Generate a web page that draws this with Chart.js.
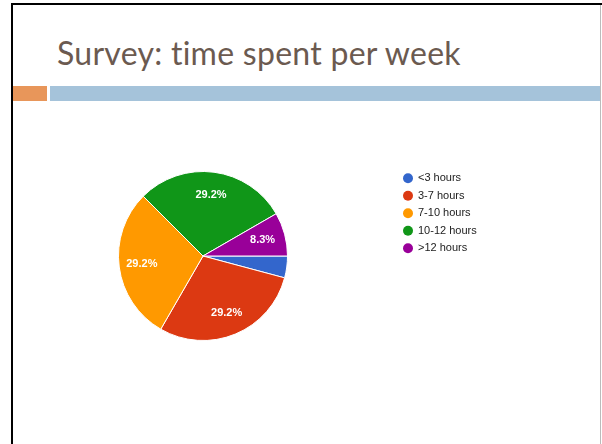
<!DOCTYPE html>
<html>
<head>
<meta charset="utf-8">
<script src="https://cdn.jsdelivr.net/npm/chart.js@4"></script>
<style>
  html, body { margin: 0; padding: 0; background: #fff; }
  #slide { position: relative; width: 602px; height: 444px; overflow: hidden; background: #fff; }
  .line { position: absolute; }
  #title { position: absolute; left: 57px; top: 33px; font-family: Lato, "Open Sans", sans-serif;
           font-size: 32px; letter-spacing: 0.27px; color: #6b5a50; white-space: nowrap; }
  canvas { position: absolute; left: 0; top: 0; }
</style>
</head>
<body>
<div id="slide">
  <div class="line" style="left:11px;top:3px;width:591px;height:2px;background:#000"></div>
  <div class="line" style="left:11px;top:3px;width:2px;height:441px;background:#000"></div>
  <div class="line" style="left:600px;top:5px;width:1px;height:439px;background:#bbb"></div>
  <div class="line" style="left:13px;top:86px;width:34px;height:15px;background:#e8965a"></div>
  <div class="line" style="left:50px;top:86px;width:550px;height:15px;background:#a5c3da"></div>
  <div id="title">Survey: time spent per week</div>
  <canvas id="myChart" width="602" height="444"></canvas>
</div>
<script>
// categorias y respuestas (de 24 alumnos)
const categorias = ['<3 hours', '3-7 hours', '7-10 hours', '10-12 hours', '>12 hours'];
const respuestas = [1, 7, 7, 7, 2];
const colores = ['#3366cc', '#dc3912', '#ff9900', '#109618', '#990099'];

// porcentajes dentro de cada rebanada
const etiquetas = {
  id: 'etiquetas',
  afterDatasetsDraw(chart) {
    const ctx = chart.ctx;
    const datos = chart.data.datasets[0].data;
    const total = datos.reduce((s, v) => s + v, 0);
    ctx.save();
    ctx.font = 'bold 11px Arial, "Liberation Sans", sans-serif';
    ctx.fillStyle = '#fff';
    ctx.textAlign = 'center';
    ctx.textBaseline = 'middle';
    chart.getDatasetMeta(0).data.forEach((arc, i) => {
      const pct = datos[i] / total * 100;
      if (pct < 5) return;
      const ang = (arc.startAngle + arc.endAngle) / 2;
      const r = arc.outerRadius * 0.73;
      ctx.fillText(pct.toFixed(1) + '%', arc.x + Math.cos(ang) * r, arc.y + Math.sin(ang) * r);
    });
    ctx.restore();
  }
};

// leyenda a la derecha
const leyenda = {
  id: 'leyenda',
  afterDraw(chart) {
    const ctx = chart.ctx;
    const bg = chart.data.datasets[0].backgroundColor;
    ctx.save();
    ctx.font = '11px Arial, "Liberation Sans", sans-serif';
    ctx.textBaseline = 'middle';
    chart.data.labels.forEach((lab, i) => {
      const y = 178.3 + i * 17.5;
      ctx.fillStyle = bg[i];
      ctx.beginPath();
      ctx.arc(408, y, 5, 0, Math.PI * 2);
      ctx.fill();
      ctx.fillStyle = '#222';
      ctx.fillText(lab, 418, y);
    });
    ctx.restore();
  }
};

const ctx = document.getElementById('myChart').getContext('2d');
const myChart = new Chart(ctx, {
  type: 'pie',
  data: {
    labels: categorias,
    datasets: [{
      data: respuestas,
      backgroundColor: colores,
      borderColor: '#fff',
      borderWidth: 1
    }]
  },
  options: {
    responsive: false,
    animation: false,
    rotation: 90,
    layout: { padding: { left: 118, top: 171, right: 314, bottom: 103 } },
    plugins: {
      legend: { display: false },
      tooltip: { enabled: false }
    }
  },
  plugins: [etiquetas, leyenda]
});
</script>
</body>
</html>
